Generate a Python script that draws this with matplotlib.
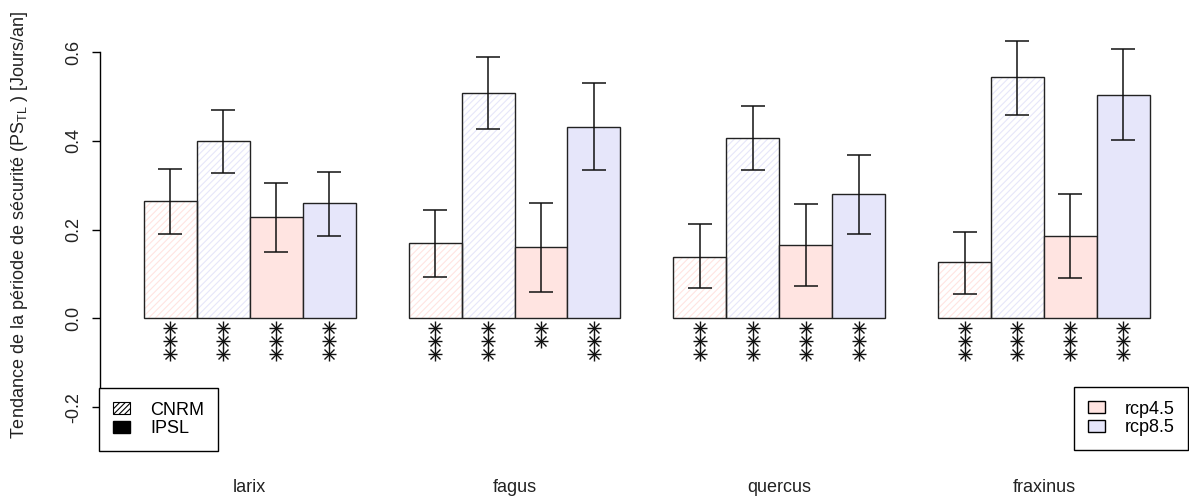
import matplotlib.pyplot as plt
import numpy as np
from matplotlib.patches import Patch
from matplotlib.transforms import blended_transform_factory

plt.rcParams['font.family'] = ['Liberation Sans', 'DejaVu Sans']
plt.rcParams['hatch.linewidth'] = 0.8

# data
species = ['larix', 'fagus', 'quercus', 'fraxinus']
series = ['CNRM rcp4.5', 'CNRM rcp8.5', 'IPSL rcp4.5', 'IPSL rcp8.5']

cnrm_45 = [0.264, 0.169, 0.139, 0.126]
cnrm_85 = [0.399, 0.508, 0.407, 0.543]
ipsl_45 = [0.229, 0.161, 0.166, 0.185]
ipsl_85 = [0.259, 0.431, 0.280, 0.504]

cnrm_45_lo = [0.190, 0.093, 0.068, 0.055]
cnrm_45_hi = [0.337, 0.244, 0.212, 0.194]
cnrm_85_lo = [0.327, 0.426, 0.334, 0.458]
cnrm_85_hi = [0.470, 0.589, 0.479, 0.624]
ipsl_45_lo = [0.150, 0.060, 0.074, 0.090]
ipsl_45_hi = [0.304, 0.261, 0.258, 0.280]
ipsl_85_lo = [0.186, 0.334, 0.190, 0.402]
ipsl_85_hi = [0.329, 0.530, 0.367, 0.607]

# number of significance stars under each bar
stars_cnrm_45 = [3, 3, 3, 3]
stars_cnrm_85 = [3, 3, 3, 3]
stars_ipsl_45 = [3, 2, 3, 3]
stars_ipsl_85 = [3, 3, 3, 3]

means = [cnrm_45, cnrm_85, ipsl_45, ipsl_85]
lows = [cnrm_45_lo, cnrm_85_lo, ipsl_45_lo, ipsl_85_lo]
highs = [cnrm_45_hi, cnrm_85_hi, ipsl_45_hi, ipsl_85_hi]
stars = [stars_cnrm_45, stars_cnrm_85, stars_ipsl_45, stars_ipsl_85]

col45 = '#FFE4E1'   # mistyrose
col85 = '#E6E6FA'   # lavender
fills = [col45, col85, col45, col85]
hatched = [True, True, False, False]

fig = plt.figure(figsize=(11.89, 5.01), dpi=100)
ax = fig.add_axes([100 / 1189, 0.081, 1 - 100 / 1189, 0.886])

groups = np.arange(len(species)) * 5
for k in range(4):
    x = groups + k + 0.5
    if hatched[k]:
        ax.bar(x, means[k], width=1, color='white', edgecolor=fills[k],
               hatch='/////', linewidth=0, zorder=2)
        ax.bar(x, means[k], width=1, fill=False, edgecolor='#222222',
               linewidth=1.0, zorder=3)
    else:
        ax.bar(x, means[k], width=1, color=fills[k], edgecolor='#222222',
               linewidth=1.0, zorder=3)
    m = np.array(means[k])
    yerr = [m - np.array(lows[k]), np.array(highs[k]) - m]
    ax.errorbar(x, m, yerr=yerr, fmt='none', ecolor='#111111',
                elinewidth=1.1, capsize=8.3, capthick=1.1, zorder=4)
    for xi, n in zip(x, stars[k]):
        ys = -0.022 - 0.029 * np.arange(n)
        ax.plot([xi] * n, ys, ls='none', marker='+', ms=9.5, mew=1.0,
                color='#111111', zorder=4)
        ax.plot([xi] * n, ys, ls='none', marker='x', ms=7, mew=1.0,
                color='#111111', zorder=4)

ax.set_xlim(-0.83, 19.74)
ax.set_ylim(-0.32, 0.68)
for s in ['top', 'right', 'bottom']:
    ax.spines[s].set_visible(False)
ax.spines['left'].set_bounds(-0.2, 0.6)
ax.spines['left'].set_linewidth(1.0)
ax.set_yticks([-0.2, 0.0, 0.2, 0.4, 0.6])
ax.set_yticklabels(['-0.2', '0.0', '0.2', '0.4', '0.6'], rotation=90,
                   va='center', fontsize=13, color='#222222')
ax.tick_params(axis='y', length=6, width=1.0, pad=7)
ax.set_xticks([])

# group names under the plot
trans = blended_transform_factory(ax.transData, fig.transFigure)
for g, name in zip(groups, species):
    ax.text(g + 2, 1 - 487 / 501, name, transform=trans, ha='center',
            va='center', fontsize=13, color='#222222')

fig.text(20 / 1189, 1 - 225 / 501,
         r'Tendance de la période de sécurité (PS$_{\mathregular{TL}}$ ) [Jours/an]',
         rotation=90, ha='center', va='center', fontsize=13, color='#222222')

leg_kw = dict(bbox_transform=fig.transFigure, fontsize=13, frameon=True,
              fancybox=False, framealpha=1, edgecolor='black',
              handlelength=0.95, handleheight=0.65, handletextpad=1.1,
              labelspacing=0.1, borderpad=0.75, borderaxespad=0)

leg1 = ax.legend(handles=[Patch(facecolor='white', edgecolor='black', hatch='//////', linewidth=0.8),
                          Patch(facecolor='black', edgecolor='black')],
                 labels=['CNRM', 'IPSL'], loc='upper left',
                 bbox_to_anchor=(99.5 / 1189, 1 - 388 / 501), **leg_kw)
leg1.get_frame().set_linewidth(1.0)
leg1.set_zorder(6)
ax.add_artist(leg1)

leg2 = ax.legend(handles=[Patch(facecolor=col45, edgecolor='black'),
                          Patch(facecolor=col85, edgecolor='black')],
                 labels=['rcp4.5', 'rcp8.5'], loc='upper right',
                 bbox_to_anchor=(1188 / 1189, 1 - 387 / 501), **leg_kw)
leg2.get_frame().set_linewidth(1.0)

fig.savefig('out.png', dpi=100)
